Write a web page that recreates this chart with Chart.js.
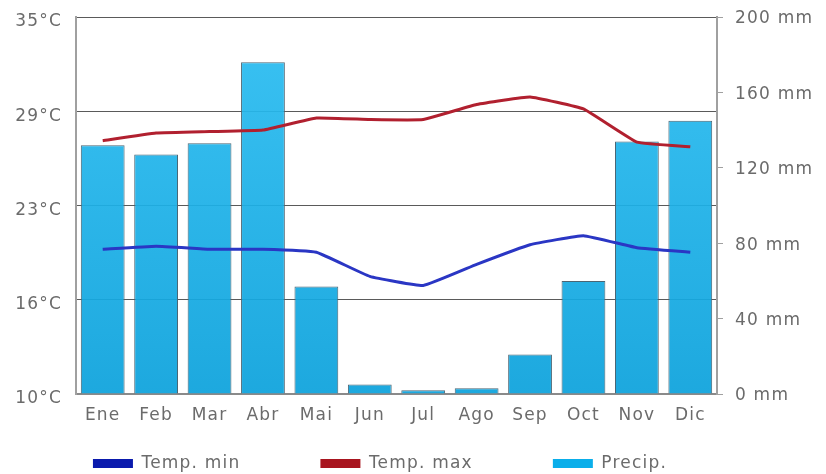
<!DOCTYPE html>
<html>
<head>
<meta charset="utf-8">
<script src="https://cdn.jsdelivr.net/npm/chart.js@4.4.1/dist/chart.umd.min.js"></script>
<style>
  html, body { margin: 0; padding: 0; background: #fff; }
  #wrap { width: 826px; height: 474px; position: relative; }
</style>
</head>
<body>
<div id="wrap"><canvas id="climate"></canvas></div>
<script>
// Monthly climate values
const months = ['Ene', 'Feb', 'Mar', 'Abr', 'Mai', 'Jun', 'Jul', 'Ago', 'Sep', 'Oct', 'Nov', 'Dic'];
const tempMin = [19.6, 19.8, 19.6, 19.6, 19.4, 17.8, 17.2, 18.6, 19.9, 20.5, 19.7, 19.4];
const tempMax = [26.8, 27.3, 27.4, 27.5, 28.3, 28.2, 28.2, 29.2, 29.7, 28.9, 26.7, 26.4];
const precip = [132, 127, 133, 176, 57, 5, 2, 3, 21, 60, 134, 145];

// Axis tick labels
const tempTicks = ['10°C', '16°C', '23°C', '29°C', '35°C'];
const precipTicks = ['0 mm', '40 mm', '80 mm', '120 mm', '160 mm', '200 mm'];

const FONT = { family: 'DejaVu Sans, Verdana, sans-serif', size: 17 };
const TEXT = '#6b6b6b';
const SWATCH = ['#0a1aad', '#a8151f', '#0aaeea'];

// Slightly wider lettering for all canvas text
const spacing = {
  id: 'spacing',
  beforeLayout(chart) { chart.ctx.letterSpacing = '1.2px'; },
  beforeDraw(chart) { chart.ctx.letterSpacing = '1.2px'; },
  // the legend row sits a little left of centre and close under the month labels
  afterLayout(chart) {
    const lg = chart.legend;
    if (!lg) return;
    lg.top -= lg.options.labels.padding - 21;
    lg.left -= 33; lg.right -= 33;
  }
};

function barFill(ctx) {
  const area = ctx.chart.chartArea;
  if (!area) return '#1eb2ea';
  const g = ctx.chart.ctx.createLinearGradient(0, area.top, 0, area.bottom);
  g.addColorStop(0, 'rgba(44,190,242,0.93)');
  g.addColorStop(1, 'rgba(12,162,220,0.93)');
  return g;
}

function trimPadding(scale, width) {
  scale.width = width;
  scale.paddingTop = 0;
  scale.paddingBottom = 0;
}

new Chart(document.getElementById('climate'), {
  data: {
    labels: months,
    datasets: [
      {
        type: 'line', label: 'Temp. min', data: tempMin, yAxisID: 'y',
        borderColor: '#2a36c4', backgroundColor: '#0a1aad',
        borderWidth: 3, pointRadius: 0, tension: 0.1, order: 1
      },
      {
        type: 'line', label: 'Temp. max', data: tempMax, yAxisID: 'y',
        borderColor: '#b1202f', backgroundColor: '#a8151f',
        borderWidth: 3, pointRadius: 0, tension: 0.1, order: 1
      },
      {
        type: 'bar', label: 'Precip.', data: precip, yAxisID: 'y1',
        backgroundColor: barFill, borderColor: '#4b6573', borderWidth: 1,
        categoryPercentage: 0.82, barPercentage: 1, order: 2
      }
    ]
  },
  options: {
    responsive: true,
    maintainAspectRatio: false,
    animation: false,
    layout: { padding: { left: 0, right: 0, top: 17, bottom: 0 } },
    scales: {
      x: {
        grid: { display: false },
        border: { color: '#8a8a8a', width: 2 },
        afterFit(scale) { scale.height = 40; },
        ticks: { color: TEXT, font: FONT, padding: 3, maxRotation: 0 }
      },
      y: {
        position: 'left',
        min: 10, max: 35,
        afterBuildTicks(scale) {
          scale.ticks = tempTicks.map((t, i) => ({ value: 10 + i * 6.25 }));
        },
        afterFit(scale) { trimPadding(scale, 76); },
        grid: { color: '#5a5a5a', lineWidth: 1, drawTicks: false },
        border: { color: '#a0a0a0', width: 2 },
        ticks: {
          color: TEXT, font: FONT, padding: 14, labelOffset: 5,
          callback: (v, i) => tempTicks[i]
        }
      },
      y1: {
        position: 'right',
        min: 0, max: 200,
        afterBuildTicks(scale) {
          scale.ticks = precipTicks.map((t, i) => ({ value: i * 40 }));
        },
        afterFit(scale) { trimPadding(scale, 109); },
        grid: { drawOnChartArea: false, drawTicks: true, tickLength: 6, color: '#a0a0a0' },
        border: { color: '#a0a0a0', width: 2 },
        ticks: {
          color: TEXT, font: FONT, padding: 12, labelOffset: 2,
          callback: (v, i) => precipTicks[i]
        }
      }
    },
    plugins: {
      legend: {
        position: 'bottom',
        maxHeight: 40,
        labels: {
          color: TEXT, font: FONT,
          boxWidth: 40, boxHeight: 9, padding: 80,
          useBorderRadius: false,
          // flat, borderless swatches
          generateLabels(chart) {
            const items = Chart.defaults.plugins.legend.labels.generateLabels(chart);
            items.forEach((it, i) => {
              it.fillStyle = SWATCH[i];
              it.strokeStyle = SWATCH[i];
              it.lineWidth = 0;
            });
            return items;
          }
        }
      },
      tooltip: { enabled: false }
    }
  },
  plugins: [spacing]
});
</script>
</body>
</html>
